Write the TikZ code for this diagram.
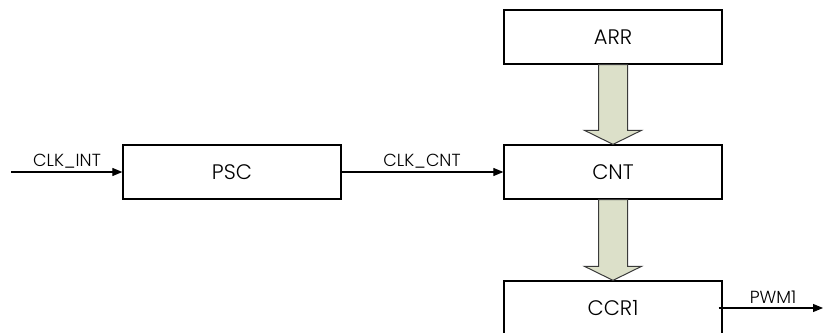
\documentclass[tikz,border=0pt]{standalone}
\usepackage{fontspec}
\setmainfont{Poppins}[UprightFont=* Light]
\usetikzlibrary{arrows.meta}
\definecolor{busfill}{HTML}{DCE0C9}
\definecolor{busline}{HTML}{3A3A3A}
\tikzset{
  block/.style={draw=black, line width=1.3pt, minimum width=218pt, minimum height=54pt,
    inner sep=0pt, font=\fontsize{21}{24}\selectfont},
  sig/.style={draw=black, line width=1.1pt, -{Triangle[length=10pt,width=8pt]}},
  siglabel/.style={font=\fontsize{17.5}{20}\selectfont, inner sep=0pt},
  bus/.style={fill=busfill, draw=busline, line width=1pt, line join=miter}
}
\begin{document}
\begin{tikzpicture}[x=1pt, y=-1pt]
  \useasboundingbox (0,0) rectangle (824,332);

  % register blocks
  \node[block] (arr) at (613,37) {ARR};
  \node[block] (cnt) at (613,172) {CNT};
  \node[block] (psc) at (232,172) {PSC};
  \node[block] (ccr) at (613,308) {CCR1};

  % wide data-path arrows between registers
  \foreach \a/\b in {arr/cnt, cnt/ccr} {
    \path[bus] ([xshift=-14.5pt]\a.south) -- ([xshift=14.5pt]\a.south)
      -- ([xshift=14.5pt,yshift=14pt]\b.north) -- ([xshift=28.5pt,yshift=14pt]\b.north)
      -- (\b.north) -- ([xshift=-28.5pt,yshift=14pt]\b.north)
      -- ([xshift=-14.5pt,yshift=14pt]\b.north) -- cycle;
  }

  % clock and output signals
  \coordinate (clkin) at (11,172);
  \coordinate (pwmout) at (823,308);
  \draw[sig] (clkin) -- (psc.west);
  \draw[sig] (psc.east) -- (cnt.west);
  \draw[sig] ([xshift=-4pt]ccr.east) -- (pwmout);

  \node[siglabel] (lclkint) at (67,161) {CLK\_INT};
  \node[siglabel] (lclkcnt) at (422,161) {CLK\_CNT};
  \node[siglabel] (lpwm) at (773,297) {PWM1};
\end{tikzpicture}
\end{document}
